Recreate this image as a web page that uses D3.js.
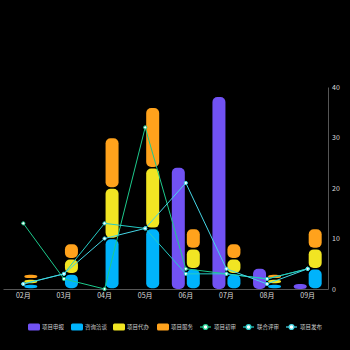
<!DOCTYPE html>
<html>
<head>
<meta charset="utf-8">
<script src="https://cdn.jsdelivr.net/npm/d3@7"></script>
<style>
  html, body { margin: 0; padding: 0; background: #000; }
  svg { display: block; }
</style>
</head>
<body>
<svg id="chart" width="350" height="350"></svg>
<script>
// Monthly figures
const months = ["02月", "03月", "04月", "05月", "06月", "07月", "08月", "09月"];
const declare = [0, 0, 0, 0, 24, 38, 4, 1];          // 项目申报
const consult = [1, 3, 10, 12, 4, 3, 1, 4];          // 咨询洽谈
const agency = [1, 3, 10, 12, 4, 3, 1, 4];           // 项目代办
const service = [1, 3, 10, 12, 4, 3, 1, 4];          // 项目服务
const firstReview = [13, 2, 0, 32, 4, 3, 2, 4];      // 项目初审
const jointReview = [1, 3, 13, 12, 3, 3, 2, 4];      // 联合评审
const publish = [1, 3, 10, 12, 21, 4, 1, 4];         // 项目发布
const yTicks = [0, 10, 20, 30, 40];

const stackSeries = [
  { name: "咨询洽谈", values: consult, color: "#00b3fb" },
  { name: "项目代办", values: agency, color: "#f1e523" },
  { name: "项目服务", values: service, color: "#ffa21c" }
];
const lineSeries = [
  { name: "项目初审", values: firstReview, color: "#1dc98c" },
  { name: "联合评审", values: jointReview, color: "#25cbc6" },
  { name: "项目发布", values: publish, color: "#45d6e6" }
];
const declareColor = "#7152f3";

const svg = d3.select("#chart");
const margin = { left: 3, right: 22, top: 87, bottom: 61 };
const W = 350, H = 350;

const x = d3.scaleBand().domain(months).range([margin.left, W - margin.right]).padding(0);
const y = d3.scaleLinear().domain([0, 40]).range([H - margin.bottom, margin.top]);

const barW = 13;
const off = 7.5;

// Axes
const yAxis = d3.axisRight(y).tickValues(yTicks).tickSize(0).tickPadding(4);
const gy = svg.append("g").attr("transform", `translate(${W - margin.right},0)`).call(yAxis);
gy.select(".domain").attr("stroke", "#555").attr("stroke-width", 1);
gy.selectAll("text").attr("fill", "#ddd").style("font-family", "'Noto Sans CJK SC', sans-serif").style("font-size", "7px");

const xAxis = d3.axisBottom(x).tickSize(0).tickPadding(4);
const gx = svg.append("g").attr("transform", `translate(0,${y(0)})`).call(xAxis);
gx.select(".domain").attr("stroke", "#555").attr("stroke-width", 1);
gx.selectAll("text").attr("fill", "#ddd").style("font-family", "'Noto Sans CJK SC', sans-serif").style("font-size", "7px");

// 项目申报 bars (left of each month)
svg.append("g").selectAll("rect").data(months.map((m, i) => ({ m, v: declare[i] })).filter(d => d.v > 0))
  .join("rect")
  .attr("x", d => x(d.m) + x.bandwidth() / 2 - off - barW / 2)
  .attr("y", d => y(d.v))
  .attr("width", barW)
  .attr("height", d => y(0) - y(d.v))
  .attr("rx", 5).attr("ry", 5)
  .attr("fill", declareColor);

// Stacked service bars (right of each month)
const stackData = months.map((m, i) => {
  const o = { m };
  stackSeries.forEach(s => { o[s.name] = s.values[i]; });
  return o;
});
const stacked = d3.stack().keys(stackSeries.map(s => s.name))(stackData);
const gap = 0.8;
stacked.forEach((layer, li) => {
  svg.append("g").selectAll("rect").data(layer.filter(d => d[1] - d[0] > 0))
    .join("rect")
    .attr("x", d => x(d.data.m) + x.bandwidth() / 2 + off - barW / 2)
    .attr("y", d => y(d[1]) + gap)
    .attr("width", barW)
    .attr("height", d => Math.max(0, y(d[0]) - y(d[1]) - 2 * gap))
    .attr("rx", 5).attr("ry", 5)
    .attr("fill", stackSeries[li].color);
});

// Lines
const line = d3.line().x((d, i) => x(months[i]) + x.bandwidth() / 2).y(d => y(d));
lineSeries.forEach(s => {
  svg.append("path").datum(s.values)
    .attr("d", line).attr("fill", "none")
    .attr("stroke", s.color).attr("stroke-width", 1);
  svg.append("g").selectAll("circle").data(s.values).join("circle")
    .attr("cx", (d, i) => x(months[i]) + x.bandwidth() / 2)
    .attr("cy", d => y(d))
    .attr("r", 1.6)
    .attr("fill", "#fff")
    .attr("stroke", s.color).attr("stroke-width", 1);
});

// Legend
const legendItems = [
  { name: "项目申报", color: declareColor, type: "rect", x: 28 },
  { name: "咨询洽谈", color: stackSeries[0].color, type: "rect", x: 71 },
  { name: "项目代办", color: stackSeries[1].color, type: "rect", x: 113 },
  { name: "项目服务", color: stackSeries[2].color, type: "rect", x: 157 },
  { name: "项目初审", color: lineSeries[0].color, type: "line", x: 200 },
  { name: "联合评审", color: lineSeries[1].color, type: "line", x: 243 },
  { name: "项目发布", color: lineSeries[2].color, type: "line", x: 286 }
];
const ly = 327;
const lg = svg.append("g");
legendItems.forEach(it => {
  const g = lg.append("g").attr("transform", `translate(${it.x},${ly})`);
  if (it.type === "rect") {
    g.append("rect").attr("x", 0).attr("y", -3.5).attr("width", 12).attr("height", 7)
      .attr("rx", 1.5).attr("fill", it.color);
  } else {
    g.append("line").attr("x1", 0).attr("x2", 11).attr("y1", 0).attr("y2", 0)
      .attr("stroke", it.color).attr("stroke-width", 1.2);
    g.append("circle").attr("cx", 5.5).attr("cy", 0).attr("r", 2.4)
      .attr("fill", "#fff").attr("stroke", it.color).attr("stroke-width", 1.3);
  }
  g.append("text").attr("x", 14).attr("y", 0).attr("dy", "0.35em")
    .attr("fill", "#ccc")
    .style("font-family", "'Noto Sans CJK SC', sans-serif")
    .style("font-size", "5.5px")
    .text(it.name);
});
</script>
</body>
</html>
